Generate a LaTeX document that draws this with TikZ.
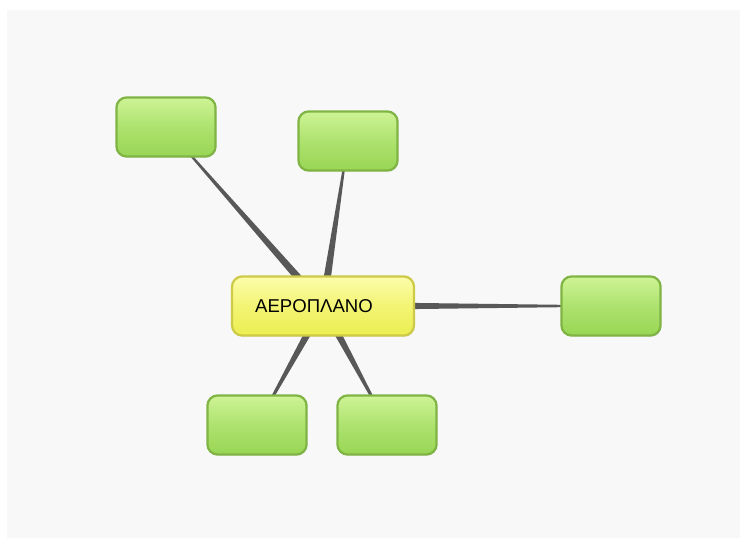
\documentclass[tikz,border=0pt]{standalone}
\usepackage{fontspec}
\setmainfont{Liberation Sans}
\usetikzlibrary{calc,shadows}

\definecolor{leafline}{RGB}{128,180,68}
\definecolor{leaftop}{RGB}{206,244,150}
\definecolor{leafbot}{RGB}{152,214,84}
\definecolor{hubline}{RGB}{205,202,72}
\definecolor{hubtop}{RGB}{252,253,170}
\definecolor{hubbot}{RGB}{236,238,80}
\definecolor{linkgray}{RGB}{88,88,88}
\definecolor{paper}{RGB}{248,248,248}

\pgfdeclarelayer{bg}
\pgfsetlayers{bg,main}

\tikzset{
  leaf/.style={draw=leafline, line width=1.6pt, rounded corners=0.26cm,
    top color=leaftop, bottom color=leafbot, middle color=leafbot!60!leaftop,
    minimum width=2.48cm, minimum height=1.48cm,
    drop shadow={opacity=0.2, shadow xshift=0.6pt, shadow yshift=-0.8pt}},
  hub/.style={draw=hubline, line width=1.6pt, rounded corners=0.26cm,
    top color=hubtop, bottom color=hubbot, middle color=hubbot!60!hubtop,
    minimum width=4.55cm, minimum height=1.48cm,
    font=\fontsize{13.2}{16}\selectfont,
    drop shadow={opacity=0.2, shadow xshift=0.6pt, shadow yshift=-0.8pt}}
}

% tapered connector, wide at the hub
\newcommand{\taperlink}[2]{%
  \fill[linkgray] ($(#1)!3pt!90:(#2)$) -- ($(#2)!0.4pt!-90:(#1)$)
    -- ($(#2)!0.4pt!90:(#1)$) -- ($(#1)!3pt!-90:(#2)$) -- cycle;}

\begin{document}
\begin{tikzpicture}[x=0.025cm,y=-0.025cm]
    % Page
    \useasboundingbox (0,0) rectangle (745,544);

    % Nodes
    \node[hub] (plane) at (323,306) {ΑΕΡΟΠΛΑΝΟ\kern0.45cm};
    \node[leaf] (topleft) at (166,127) {};
    \node[leaf] (topmid) at (348,141) {};
    \node[leaf] (right) at (611,306) {};
    \node[leaf] (botleft) at (257,425) {};
    \node[leaf] (botright) at (387,425) {};

    \begin{pgfonlayer}{bg}
        % Background
        \fill[white] (0,0) rectangle (745,544);
        \fill[paper] (7,10) rectangle (740,538);

        % Links
        \foreach \leafname in {topleft,topmid,right,botleft,botright}
            \taperlink{plane}{\leafname};
    \end{pgfonlayer}
\end{tikzpicture}
\end{document}
